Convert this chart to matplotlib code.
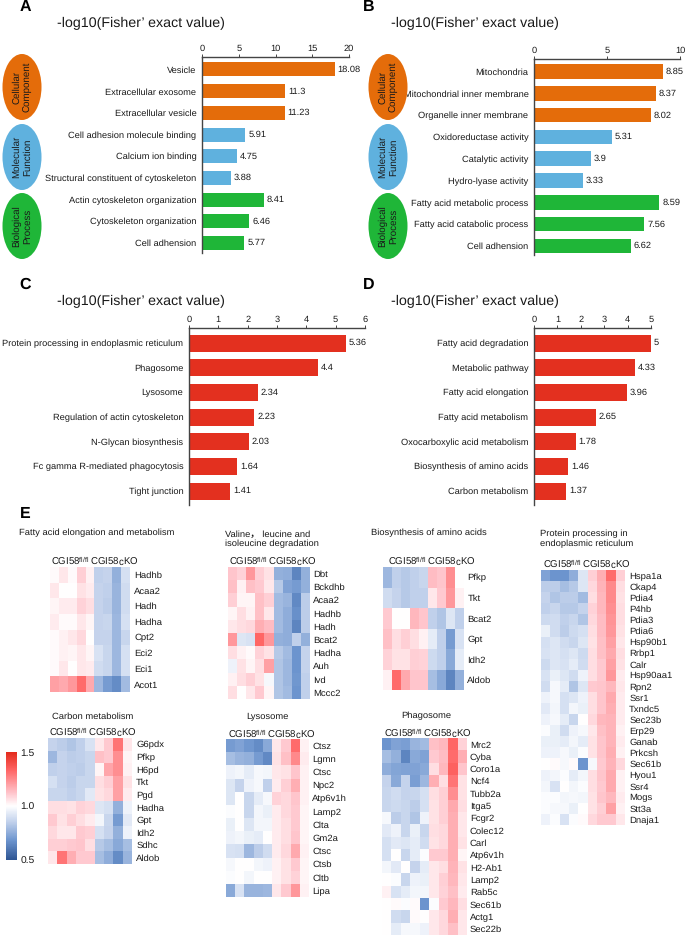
import matplotlib
matplotlib.use("Agg")
import matplotlib.pyplot as plt
import numpy as np
from matplotlib.colors import LinearSegmentedColormap, Normalize
from matplotlib.patches import Ellipse
from matplotlib.cm import ScalarMappable

plt.rcParams['font.family'] = ['Liberation Sans', 'Noto Sans CJK SC', 'DejaVu Sans']
plt.rcParams['mathtext.default'] = 'regular'
plt.rcParams['text.hinting'] = 'no_hinting'
plt.rcParams['text.hinting_factor'] = 8

W, H = 685, 936

# ---------- bar data ----------
a_labels = ["Vesicle", "Extracellular exosome", "Extracellular vesicle", "Cell adhesion molecule binding",
            "Calcium ion binding", "Structural constituent of cytoskeleton", "Actin cytoskeleton organization",
            "Cytoskeleton organization", "Cell adhension"]
a_values = [18.08, 11.3, 11.23, 5.91, 4.75, 3.88, 8.41, 6.46, 5.77]
b_labels = ["Mitochondria", "Mitochondrial inner membrane", "Organelle inner membrane", "Oxidoreductase activity",
            "Catalytic activity", "Hydro-lyase activity", "Fatty acid metabolic process",
            "Fatty acid catabolic process", "Cell adhension"]
b_values = [8.85, 8.37, 8.02, 5.31, 3.9, 3.33, 8.59, 7.56, 6.62]
c_labels = ["Protein processing in endoplasmic reticulum", "Phagosome", "Lysosome", "Regulation of actin cytoskeleton",
            "N-Glycan biosynthesis", "Fc gamma R-mediated phagocytosis", "Tight junction"]
c_values = [5.36, 4.4, 2.34, 2.23, 2.03, 1.64, 1.41]
d_labels = ["Fatty acid degradation", "Metabolic pathway", "Fatty acid elongation", "Fatty acid metabolism",
            "Oxocarboxylic acid metabolism", "Biosynthesis of amino acids", "Carbon metabolism"]
d_values = [5, 4.33, 3.96, 2.65, 1.78, 1.46, 1.37]

ORANGE, BLUE, GREEN, RED = '#E46C0A', '#5FB1DE', '#1FB638', '#E3301F'
go_colors = [ORANGE] * 3 + [BLUE] * 3 + [GREEN] * 3
kegg_colors = [RED] * 7

# ---------- heatmap data ----------
fatty_genes = ["Hadhb", "Acaa2", "Hadh", "Hadha", "Cpt2", "Eci2", "Eci1", "Acot1"]
fatty = [[1.01,1.05,1.01,1.10,1.03,0.85,0.86,0.76,0.90],
         [1.05,1.00,1.00,1.06,1.04,0.86,0.85,0.77,0.89],
         [1.02,1.04,1.04,1.09,1.07,0.86,0.84,0.77,0.89],
         [1.04,1.01,1.01,1.05,1.02,0.86,0.87,0.78,0.90],
         [1.01,1.03,1.05,1.08,1.00,0.86,0.86,0.78,0.87],
         [1.01,1.03,1.02,1.05,1.02,0.91,0.87,0.78,0.90],
         [1.01,1.05,1.00,1.05,1.04,0.89,0.87,0.78,0.90],
         [1.20,1.18,1.22,1.32,1.18,0.78,0.70,0.66,0.79]]
valine_genes = ["Dbt", "Bckdhb", "Acaa2", "Hadhb", "Hadh", "Bcat2", "Hadha", "Auh", "Ivd", "Mccc2"]
valine = [[1.12,1.09,1.22,1.10,1.06,0.76,0.75,0.64,0.76],
          [1.13,1.03,1.13,1.11,1.05,0.83,0.72,0.70,0.76],
          [1.10,1.02,1.02,1.13,1.10,0.79,0.77,0.65,0.84],
          [1.02,1.07,1.03,1.13,1.05,0.79,0.75,0.67,0.84],
          [1.05,1.07,1.08,1.17,1.14,0.79,0.75,0.64,0.84],
          [1.22,0.92,0.91,1.33,1.22,0.76,0.75,0.85,0.76],
          [1.07,1.03,1.01,1.09,1.06,0.83,0.79,0.68,0.86],
          [0.96,1.06,1.02,1.07,1.20,0.82,0.78,0.68,0.86],
          [1.03,1.07,1.10,1.06,0.98,0.82,0.78,0.69,0.85],
          [1.07,1.00,1.05,1.11,1.02,0.82,0.79,0.68,0.85]]
biosyn_genes = ["Pfkp", "Tkt", "Bcat2", "Gpt", "Idh2", "Aldob"]
biosyn = [[0.78,0.85,0.83,0.85,0.87,1.14,1.12,1.24,1.00],
          [0.89,0.86,0.83,0.85,0.85,1.05,1.11,1.22,1.03],
          [1.11,1.00,1.00,1.15,1.12,0.85,0.82,0.92,0.85],
          [1.13,1.07,1.10,1.07,1.03,0.94,0.85,0.70,0.91],
          [1.09,1.06,1.06,1.10,1.09,0.88,0.85,0.74,0.94],
          [1.03,1.32,1.18,1.12,1.12,0.80,0.74,0.64,0.76]]
protein_genes = ["Hspa1a", "Ckap4", "Pdia4", "P4hb", "Pdia3", "Pdia6", "Hsp90b1", "Rrbp1", "Calr", "Hsp90aa1",
                 "Rpn2", "Ssr1", "Txndc5", "Sec23b", "Erp29", "Ganab", "Prkcsh", "Sec61b", "Hyou1", "Ssr4",
                 "Mogs", "Stt3a", "Dnaja1"]
protein = [[0.72,0.68,0.68,0.75,0.92,1.10,1.17,1.32,1.10],
           [0.84,0.84,0.80,0.83,0.92,1.08,1.16,1.25,1.07],
           [0.86,0.82,0.84,0.84,0.79,1.07,1.15,1.25,1.06],
           [0.85,0.87,0.83,0.83,0.86,1.09,1.15,1.24,1.07],
           [0.88,0.89,0.85,0.87,0.82,1.08,1.14,1.23,1.07],
           [0.95,0.89,0.84,0.88,0.90,1.07,1.14,1.22,1.06],
           [0.90,0.92,0.89,0.87,0.92,1.06,1.13,1.20,1.05],
           [0.91,0.92,0.90,0.92,0.88,1.07,1.13,1.18,1.07],
           [0.88,0.92,0.91,0.94,0.89,1.07,1.11,1.20,1.06],
           [0.91,0.95,0.92,0.89,0.96,1.07,1.11,1.22,1.04],
           [0.89,0.98,0.94,0.82,0.92,1.11,1.12,1.15,1.05],
           [0.96,0.98,0.90,0.92,0.96,1.07,1.12,1.18,1.04],
           [0.93,0.97,0.90,0.97,0.95,1.07,1.12,1.17,1.04],
           [0.96,0.98,0.94,0.87,1.00,1.08,1.15,1.16,1.04],
           [0.99,0.95,0.89,0.96,0.98,1.05,1.13,1.16,1.03],
           [0.95,0.95,0.94,0.97,0.94,1.06,1.12,1.16,1.04],
           [0.96,0.96,0.98,0.95,0.99,1.06,1.12,1.17,1.03],
           [1.00,1.01,0.98,1.01,0.68,0.98,1.11,1.16,1.08],
           [0.96,0.97,0.99,0.94,0.97,1.07,1.12,1.18,1.03],
           [0.97,0.91,1.00,0.97,0.99,1.07,1.11,1.18,1.03],
           [0.99,0.99,0.97,0.98,0.97,1.06,1.12,1.15,1.04],
           [0.99,0.98,0.98,0.95,1.00,1.06,1.10,1.20,1.03],
           [0.96,0.99,0.91,0.99,1.01,1.08,1.11,1.11,1.05]]
carbon_genes = ["G6pdx", "Pfkp", "H6pd", "Tkt", "Pgd", "Hadha", "Gpt", "Idh2", "Sdhc", "Aldob"]
carbon = [[0.86,0.84,0.82,0.85,0.91,1.05,1.11,1.30,1.05],
          [0.78,0.86,0.84,0.85,0.87,1.13,1.11,1.24,1.02],
          [0.85,0.86,0.85,0.84,0.87,1.02,1.19,1.24,1.03],
          [0.90,0.86,0.84,0.87,0.87,1.07,1.10,1.20,1.06],
          [0.87,0.87,0.85,0.87,0.93,1.06,1.08,1.20,1.04],
          [1.07,1.07,1.06,1.09,1.08,0.92,0.90,0.76,0.96],
          [1.11,1.06,1.10,1.07,1.04,0.97,0.87,0.70,0.93],
          [1.08,1.05,1.05,1.11,1.10,0.90,0.86,0.76,0.96],
          [1.10,1.10,1.11,1.12,1.07,0.83,0.80,0.74,0.80],
          [1.05,1.30,1.17,1.11,1.11,0.80,0.75,0.66,0.77]]
lyso_genes = ["Ctsz", "Lgmn", "Ctsc", "Npc2", "Atp6v1h", "Lamp2", "Clta", "Gm2a", "Ctsc", "Ctsb", "Cltb", "Lipa"]
lyso = [[0.70,0.72,0.69,0.66,0.74,1.05,1.11,1.32,1.03],
        [0.80,0.77,0.76,0.70,0.65,1.06,1.13,1.25,1.04],
        [0.96,0.97,0.94,0.98,0.97,1.05,1.06,1.12,1.03],
        [0.92,0.86,0.96,0.98,0.85,1.04,1.10,1.17,1.03],
        [0.92,1.00,0.87,0.94,0.98,1.09,1.08,1.12,1.03],
        [0.99,1.00,0.87,0.97,0.95,1.04,1.08,1.11,1.02],
        [0.95,1.00,0.92,0.97,0.97,1.04,1.07,1.11,1.02],
        [0.96,0.97,0.95,0.94,1.00,1.04,1.07,1.12,1.02],
        [0.91,0.90,0.78,0.84,0.89,1.04,1.08,1.18,1.03],
        [0.98,1.00,1.00,0.97,0.96,1.03,1.06,1.11,1.02],
        [0.99,1.00,0.97,1.00,1.00,1.03,1.06,1.09,1.02],
        [0.74,0.91,0.77,0.77,0.78,1.05,1.11,1.22,1.03]]
phago_genes = ["Mrc2", "Cyba", "Coro1a", "Ncf4", "Tubb2a", "Itga5", "Fcgr2", "Colec12", "Carl", "Atp6v1h", "H2-Ab1",
               "Lamp2", "Rab5c", "Sec61b", "Actg1", "Sec22b"]
phago = [[0.68,0.72,0.71,0.77,0.79,1.13,1.15,1.33,1.09],
         [0.80,0.76,0.64,0.74,0.72,1.11,1.14,1.32,1.17],
         [0.75,0.73,0.72,0.72,0.74,1.07,1.15,1.34,1.12],
         [0.86,0.74,0.86,0.71,0.78,1.17,1.07,1.30,1.06],
         [0.87,0.89,0.86,0.87,0.90,1.07,1.10,1.24,1.06],
         [0.87,0.88,0.87,0.84,0.90,1.06,1.10,1.18,1.07],
         [0.98,0.84,0.87,0.82,0.96,1.06,1.10,1.17,1.05],
         [0.93,0.96,0.87,0.95,0.87,1.07,1.08,1.17,1.05],
         [0.90,0.93,0.92,0.94,0.89,1.06,1.08,1.17,1.06],
         [0.90,1.00,0.87,0.94,0.99,1.11,1.11,1.17,1.02],
         [0.97,0.93,1.00,0.86,0.94,1.05,1.07,1.16,1.06],
         [1.00,0.99,0.87,0.96,0.95,1.05,1.10,1.15,1.05],
         [1.03,0.91,0.94,0.97,0.97,1.05,1.09,1.13,1.04],
         [1.00,1.01,0.99,1.01,0.68,0.99,1.11,1.15,1.07],
         [1.00,0.89,0.87,1.01,1.00,1.05,1.08,1.17,1.05],
         [1.00,0.94,0.98,0.98,0.96,1.05,1.08,1.13,1.05]]

cmap = LinearSegmentedColormap.from_list('hm', [
    (0.00, '#2E5593'), (0.18, '#6C94CE'), (0.35, '#C0D0EB'), (0.50, '#FFFFFF'),
    (0.62, '#FFC5CC'), (0.83, '#FF6666'), (1.00, '#E32B1C')])
norm = Normalize(0.5, 1.5)

fig = plt.figure(figsize=(W / 100, H / 100), dpi=100, facecolor='white')


def px_axes(x0, y0, x1, y1, **kw):
    return fig.add_axes([x0 / W, 1 - y1 / H, (x1 - x0) / W, (y1 - y0) / H], **kw)


ov = px_axes(0, 0, W, H)
ov.set_xlim(0, W)
ov.set_ylim(H, 0)
ov.axis('off')
ov.set_zorder(5)
TXT = '#1a1a1a'


def barpanel(x0, x1, ytop, ybot, c_first, c_last, labels, values, colors, xmax, ticks, bar_px, fs):
    ax = px_axes(x0, ytop, x1, ybot)
    ax.patch.set_alpha(0)
    n = len(values)
    step = (c_last - c_first) / (n - 1)
    ax.set_ylim((ybot - c_first) / step, (ytop - c_first) / step)
    ax.set_xlim(0, xmax)
    ax.barh(range(n), values, height=bar_px / step, color=colors, linewidth=0)
    for s in ('right', 'bottom'):
        ax.spines[s].set_visible(False)
    for s in ('left', 'top'):
        ax.spines[s].set_linewidth(1.0)
        ax.spines[s].set_color('#444444')
    ax.xaxis.tick_top()
    ax.set_xticks(ticks)
    ax.tick_params(axis='x', length=2.2, width=0.7, pad=1, labelsize=fs, color='#444444', labelcolor=TXT)
    ax.set_yticks(range(n))
    ax.set_yticklabels(labels, fontsize=fs, color=TXT)
    ax.tick_params(axis='y', length=0, pad=4)
    for i, v in enumerate(values):
        ax.annotate(f'{v:g}', (v, i), xytext=(2, 0), textcoords='offset points',
                    va='center', ha='left', fontsize=fs, color=TXT, annotation_clip=False)
    return ax


FS = 6.7
barpanel(202, 349, 57, 253, 69.5, 243, a_labels, a_values, go_colors, 20, range(0, 21, 5), 14, FS)
barpanel(534, 680, 59, 255, 71.5, 246, b_labels, b_values, go_colors, 10, [0, 5, 10], 14.5, FS)
barpanel(189, 365, 328, 505, 343, 491, c_labels, c_values, kegg_colors, 6, range(0, 7), 17, FS)
barpanel(534, 651, 328, 505, 343, 491, d_labels, d_values, kegg_colors, 5, range(0, 6), 17, FS)

# Panel letters and titles
for s, x, y in [('A', 25, 7), ('B', 369, 7), ('C', 25, 285), ('D', 369, 285), ('E', 25, 514)]:
    ov.text(x, y, s, fontsize=11.5, fontweight='bold', ha='center', va='center', color='black')
for x, y in [(57, 23), (391, 23), (57, 301), (391, 301)]:
    ov.text(x, y, "-log10(Fisher\u2019 exact value)", fontsize=10.3, ha='left', va='center', color=TXT)

# Category ellipses
cat_names = ["Cellular\nComponent", "Molecular\nFunction", "Biological\nProcess"]
cat_cols = [ORANGE, BLUE, GREEN]
for cx in (22, 388):
    for name, col, cy in zip(cat_names, cat_cols, (87, 157, 226)):
        ov.add_patch(Ellipse((cx, cy), 39, 66, facecolor=col, edgecolor='none'))
        ov.text(cx, cy, name, rotation=90, fontsize=7.0, ha='center', va='center',
                color=TXT, linespacing=1.25, multialignment='center')


def heat(x0, y0, x1, y1, data, genes, hx, hy, gx):
    ax = px_axes(x0, y0, x1, y1)
    ax.pcolormesh(np.array(data), cmap=cmap, norm=norm, linewidth=0, rasterized=True)
    ax.set_ylim(len(genes), 0)
    ax.set_xticks([])
    ax.yaxis.tick_right()
    ax.set_yticks(np.arange(len(genes)) + 0.5)
    ax.set_yticklabels(genes, fontsize=6.8, color=TXT)
    ax.tick_params(axis='y', length=0, pad=gx)
    for s in ax.spines.values():
        s.set_visible(False)
    ov.text(hx, hy, r'CGI58$^{fl/fl}$ CGI58cKO', fontsize=6.9, ha='left', va='center', color=TXT)


heat(50, 567, 130, 692, fatty, fatty_genes, 51, 561, 3)
heat(228, 567, 310, 699, valine, valine_genes, 229, 561, 2)
heat(383, 567, 464, 690, biosyn, biosyn_genes, 388, 561, 2.5)
heat(541, 570, 625, 825, protein, protein_genes, 543, 564, 3)
heat(48, 738, 132, 864, carbon, carbon_genes, 49, 732, 3)
heat(226, 739, 309, 897, lyso, lyso_genes, 228, 734, 2.5)
heat(382, 738, 467, 935, phago, phago_genes, 384, 733, 2)

# Heatmap titles
for s, x, y in [("Fatty acid elongation and metabolism", 19, 533),
                ("Valine\uff0c leucine and\nisoleucine degradation", 225, 539),
                ("Biosynthesis of amino acids", 371, 533),
                ("Protein processing in\nendoplasmic reticulum", 540, 539),
                ("Carbon metabolism", 52, 717),
                ("Lysosome", 246, 717),
                ("Phagosome", 401, 716)]:
    ov.text(x, y, s, fontsize=6.75, ha='left', va='center', color=TXT, linespacing=1.2)

# Colour bar
cax = px_axes(6, 752, 17, 860)
cb = fig.colorbar(ScalarMappable(norm=norm, cmap=cmap), cax=cax, ticks=[0.5, 1.0, 1.5])
cb.outline.set_visible(False)
cb.ax.set_yticklabels(['0.5', '1.0', '1.5'], fontsize=7.4, color=TXT)
cb.ax.tick_params(length=0, pad=2.5)

fig.savefig('out.png', dpi=100, facecolor='white')
